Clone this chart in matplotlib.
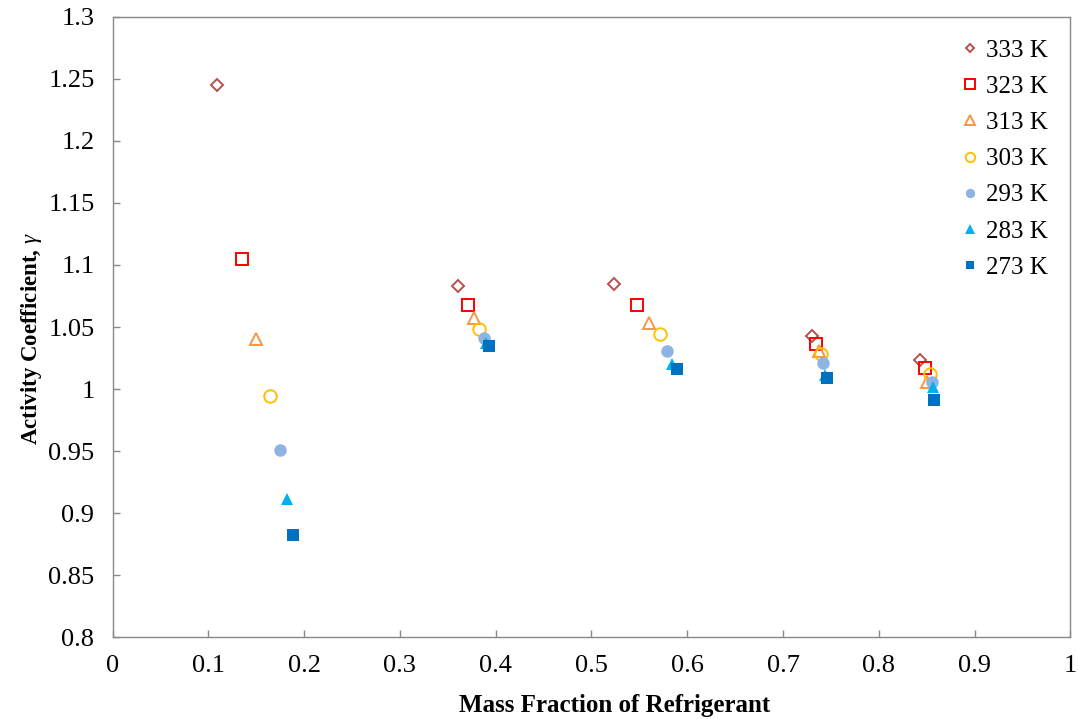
import matplotlib
matplotlib.use("Agg")
import matplotlib.pyplot as plt

plt.rcParams['font.family'] = ['Liberation Serif', 'DejaVu Serif']
plt.rcParams['mathtext.fontset'] = 'custom'
plt.rcParams['mathtext.it'] = 'Liberation Serif:italic'
plt.rcParams['mathtext.rm'] = 'Liberation Serif'

temperatures = ["333 K", "323 K", "313 K", "303 K", "293 K", "283 K", "273 K"]

# Mass fraction of refrigerant for each isotherm (five compositions)
x_333 = [0.109, 0.361, 0.524, 0.730, 0.843]
x_323 = [0.135, 0.371, 0.547, 0.734, 0.848]
x_313 = [0.150, 0.377, 0.560, 0.738, 0.850]
x_303 = [0.164, 0.383, 0.571, 0.740, 0.853]
x_293 = [0.175, 0.388, 0.579, 0.742, 0.855]
x_283 = [0.182, 0.390, 0.584, 0.744, 0.856]
x_273 = [0.188, 0.393, 0.589, 0.746, 0.858]

# Activity coefficients
g_333 = [1.245, 1.083, 1.085, 1.043, 1.023]
g_323 = [1.105, 1.068, 1.068, 1.036, 1.017]
g_313 = [1.040, 1.057, 1.053, 1.031, 1.006]
g_303 = [0.994, 1.048, 1.044, 1.028, 1.012]
g_293 = [0.951, 1.041, 1.031, 1.021, 1.006]
g_283 = [0.911, 1.037, 1.020, 1.011, 1.002]
g_273 = [0.882, 1.035, 1.016, 1.009, 0.991]

series = [
    (x_333, g_333, dict(marker='D', ms=6, mfc='none', mec='#B5514F', mew=1.4)),
    (x_323, g_323, dict(marker='s', ms=9, mfc='none', mec='#FF0000', mew=1.4)),
    (x_313, g_313, dict(marker='^', ms=9, mfc='none', mec='#F79646', mew=1.4)),
    (x_303, g_303, dict(marker='o', ms=9, mfc='none', mec='#FFC000', mew=1.4)),
    (x_293, g_293, dict(marker='o', ms=9, mfc='#8EB4E3', mec='#8EB4E3', mew=0)),
    (x_283, g_283, dict(marker='^', ms=9, mfc='#00B0F0', mec='#00B0F0', mew=0)),
    (x_273, g_273, dict(marker='s', ms=8.5, mfc='#0070C0', mec='#0070C0', mew=0)),
]

fig = plt.figure(figsize=(10.78, 7.19), dpi=100)
ax = fig.add_axes([0.1044, 0.114, 0.8886, 0.8624])

for label, (xs, ys, style) in zip(temperatures, series):
    ax.plot(xs, ys, linestyle='none', label=label, **style)

ax.set_xlim(0, 1)
ax.set_ylim(0.8, 1.3)
ax.set_xticks([i / 10 for i in range(11)])
ax.set_xticklabels(['0', '0.1', '0.2', '0.3', '0.4', '0.5', '0.6', '0.7', '0.8', '0.9', '1'])
ax.set_yticks([0.8 + 0.05 * i for i in range(11)])
ax.set_yticklabels(['0.8', '0.85', '0.9', '0.95', '1', '1.05', '1.1', '1.15', '1.2', '1.25', '1.3'])

for sp in ax.spines.values():
    sp.set_color('#898989')
    sp.set_linewidth(1.0)
ax.tick_params(direction='in', length=5, width=1, color='#898989',
               labelsize=19)
ax.tick_params(axis='y', pad=13)
ax.tick_params(axis='x', pad=13)

ax.set_xlabel('Mass Fraction of Refrigerant', fontsize=18, fontweight='bold', labelpad=12)
ax.set_ylabel(r'Activity Coefficient, $\mathit{\gamma}$', fontsize=16.5, fontweight='bold', labelpad=3)
ax.xaxis.label.set_x(0.524)
ax.yaxis.label.set_y(0.482)

leg = ax.legend(loc='upper right', frameon=False, fontsize=18, handletextpad=0.0,
                labelspacing=0.545, borderaxespad=0.5, handlelength=1.3,
                markerscale=0.75)

fig.savefig('out.png', dpi=100)
